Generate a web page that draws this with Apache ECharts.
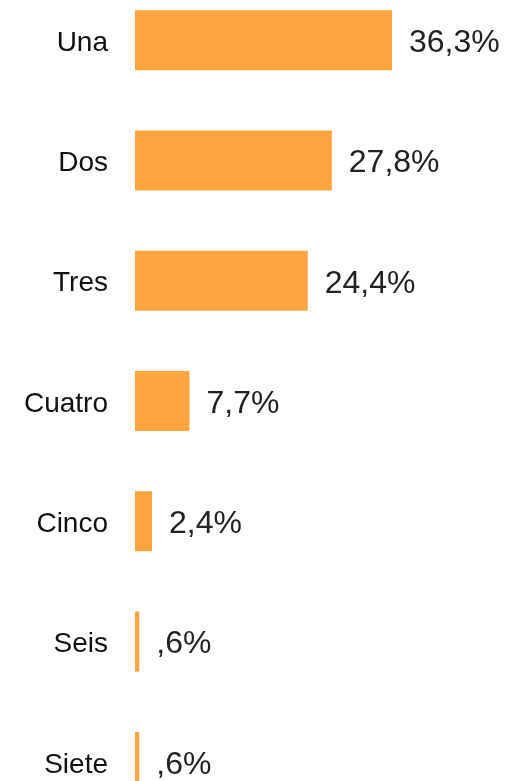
<!DOCTYPE html>
<html>
<head>
<meta charset="utf-8">
<script src="https://cdn.jsdelivr.net/npm/echarts@6/dist/echarts.min.js"></script>
<style>
html, body { margin: 0; padding: 0; background: #fff; }
#chart { width: 509px; height: 781px; }
</style>
</head>
<body>
<div id="chart"></div>
<script>
// categorias y porcentajes
var categorias = ['Una', 'Dos', 'Tres', 'Cuatro', 'Cinco', 'Seis', 'Siete'];
var porcentajes = [36.3, 27.8, 24.4, 7.7, 2.4, 0.6, 0.6];

function fmt(v) {
    // 0.6 -> ",6%"
    var s = v.toFixed(1).replace('.', ',');
    if (s.indexOf('0,') === 0) s = s.substring(1);
    return s + '%';
}

var chart = echarts.init(document.getElementById('chart'));
var option = {
    animation: false,
    grid: {
        left: 135,
        width: 354,
        top: -20,
        height: 842,
        outerBoundsMode: 'none',
        containLabel: false
    },
    xAxis: {
        type: 'value',
        min: 0,
        max: 50,
        show: false
    },
    yAxis: {
        type: 'category',
        inverse: true,
        data: categorias,
        axisLine: { show: false },
        axisTick: { show: false },
        splitLine: { show: false },
        axisLabel: {
            margin: 27,
            fontFamily: 'Liberation Sans',
            fontSize: 28,
            color: '#111',
            formatter: function (v) { return '{t|' + v + '}'; },
            rich: {
                t: {
                    fontFamily: 'Liberation Sans',
                    fontSize: 28,
                    color: '#111',
                    padding: [6, 0, 0, 0]
                }
            }
        }
    },
    series: [
        {
            type: 'bar',
            data: porcentajes,
            barWidth: 60,
            itemStyle: { color: '#ffa53f' },
            label: {
                show: true,
                position: 'right',
                distance: 17,
                offset: [0, 3],
                fontFamily: 'Liberation Sans',
                fontSize: 32,
                color: '#222',
                formatter: function (p) { return fmt(p.value); }
            }
        }
    ]
};
chart.setOption(option);
</script>
</body>
</html>
